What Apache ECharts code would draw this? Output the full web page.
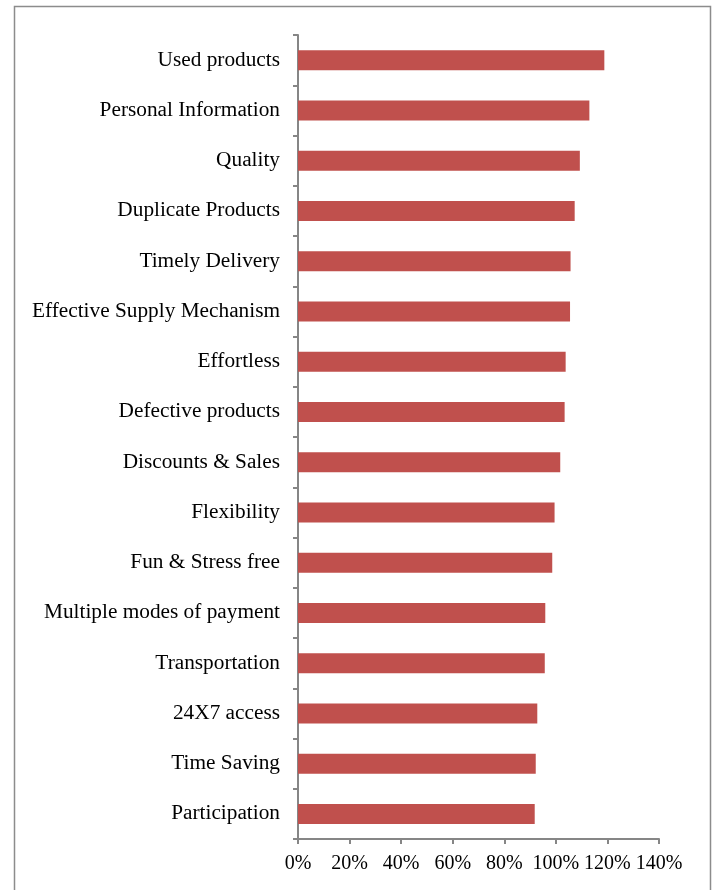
<!DOCTYPE html>
<html><head><meta charset="utf-8">
<script src="https://cdn.jsdelivr.net/npm/echarts@6/dist/echarts.min.js"></script>
<style>html,body{margin:0;padding:0;background:#fff;}#c{width:717px;height:890px;}</style>
</head><body><div id="c"></div>
<script>
const categories = ["Participation","Time Saving","24X7 access","Transportation","Multiple modes of payment","Fun & Stress free","Flexibility","Discounts & Sales","Defective products","Effortless","Effective Supply Mechanism","Timely Delivery","Duplicate Products","Quality","Personal Information","Used products"];
const values = [91.8,92.2,92.8,95.7,95.9,98.6,99.5,101.7,103.4,103.8,105.5,105.7,107.3,109.3,113.0,118.8];
const xTicks = [0,20,40,60,80,100,120,140];

const chart = echarts.init(document.getElementById('c'));
const font = '"Liberation Serif", "Times New Roman", serif';
chart.setOption({
  animation:false,
  graphic:[{type:'rect',shape:{x:14.5,y:6.5,width:696,height:900},style:{fill:'none',stroke:'#8c8c8c',lineWidth:1.5}}],
  grid:{left:298,right:58,top:35,bottom:51},
  xAxis:{type:'value',min:xTicks[0],max:xTicks[xTicks.length-1],interval:xTicks[1]-xTicks[0],
    axisLine:{show:true,lineStyle:{color:'#868686',width:2}},
    axisTick:{show:true,length:5,lineStyle:{color:'#868686',width:2}},
    splitLine:{show:false},
    axisLabel:{formatter:v=>v+'%',color:'#000',fontFamily:font,fontSize:20,margin:15}},
  yAxis:{type:'category',data:categories,
    axisLine:{lineStyle:{color:'#868686',width:2}},
    axisTick:{show:true,length:5,lineStyle:{color:'#868686',width:2}},
    axisLabel:{color:'#000',fontFamily:font,fontSize:21.3,margin:18}},
  series:[{type:'bar',data:values,barWidth:20,itemStyle:{color:'#C0504D'}}]
});
</script></body></html>
